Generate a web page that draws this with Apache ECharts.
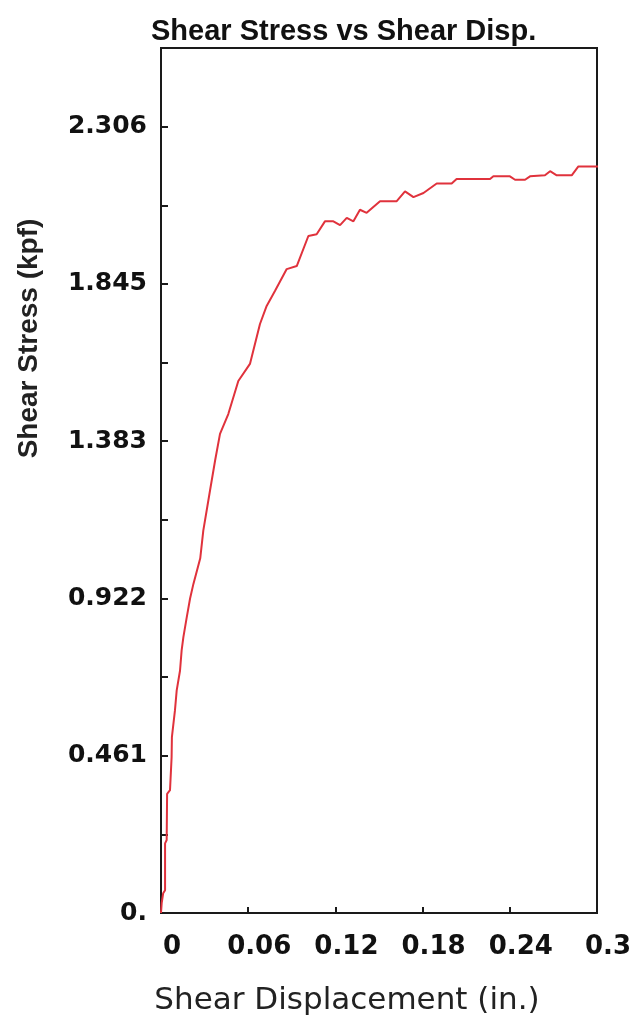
<!DOCTYPE html>
<html>
<head>
<meta charset="utf-8">
<script src="https://cdn.jsdelivr.net/npm/echarts@6/dist/echarts.min.js"></script>
<style>
  html, body { margin: 0; padding: 0; background: #ffffff; }
  #chart { width: 634px; height: 1018px; }
</style>
</head>
<body>
<div id="chart"></div>
<script>
// Direct shear test: shear stress against horizontal displacement
const shearDisp = [0, 0.0005, 0.0015, 0.0028, 0.0028, 0.0039, 0.0042, 0.0062, 0.0073, 0.0075,
  0.0096, 0.0108, 0.0131, 0.0142, 0.0154, 0.0177, 0.0200, 0.0223, 0.0270, 0.0291,
  0.0337, 0.0372, 0.0406, 0.0463, 0.0532, 0.0612, 0.0681, 0.0727, 0.0784, 0.0865,
  0.0934, 0.1014, 0.1071, 0.1128, 0.1186, 0.1232, 0.1278, 0.1324, 0.1369, 0.1415,
  0.1507, 0.1622, 0.1679, 0.1737, 0.1806, 0.1897, 0.2000, 0.2034, 0.2264, 0.2287,
  0.2401, 0.2436, 0.2505, 0.2539, 0.2642, 0.2677, 0.2723, 0.2826, 0.2872, 0.3030];
const shearStress = [0, 0.030, 0.058, 0.067, 0.204, 0.214, 0.349, 0.360, 0.457, 0.516,
  0.594, 0.653, 0.711, 0.770, 0.809, 0.867, 0.922, 0.965, 1.040, 1.121,
  1.238, 1.326, 1.405, 1.463, 1.560, 1.610, 1.727, 1.780, 1.824, 1.888,
  1.897, 1.985, 1.990, 2.028, 2.028, 2.017, 2.038, 2.028, 2.062, 2.053,
  2.087, 2.087, 2.116, 2.099, 2.111, 2.139, 2.139, 2.152, 2.152, 2.160,
  2.160, 2.150, 2.150, 2.160, 2.163, 2.175, 2.163, 2.163, 2.189, 2.189];

const xTickLabels = ['0', '0.06', '0.12', '0.18', '0.24', '0.3'];
const yTickLabels = ['0.', '0.461', '0.922', '1.383', '1.845', '2.306'];

const xStep = 0.06;
const yStep = 0.46114;

const points = shearDisp.map((d, i) => [d, shearStress[i]]);

const chart = echarts.init(document.getElementById('chart'));
chart.setOption({
  backgroundColor: '#ffffff',
  animation: false,
  title: {
    text: 'Shear Stress vs Shear Disp.',
    left: 146,
    top: 12,
    textStyle: { fontFamily: 'Liberation Sans', fontWeight: 'bold', fontSize: 29, color: '#111' }
  },
  grid: {
    left: 161, right: 37, top: 48, bottom: 105,
    outerBoundsMode: 'none',
    containLabel: false,
    show: true, borderColor: '#1a1a1a', borderWidth: 2, backgroundColor: '#ffffff'
  },
  xAxis: {
    type: 'value',
    min: 0, max: 0.3, interval: xStep,
    name: 'Shear Displacement (in.)',
    nameLocation: 'middle',
    nameGap: 72,
    nameTextStyle: { fontFamily: 'DejaVu Sans', fontSize: 31, color: '#222', padding: [0, 64, 0, 0] },
    axisLine: { lineStyle: { color: '#1a1a1a', width: 2 } },
    axisTick: { inside: true, length: 6, lineStyle: { color: '#1a1a1a', width: 2 } },
    splitLine: { show: false },
    axisLabel: {
      margin: 21,
      padding: [0, 0, 0, 22],
      fontFamily: 'DejaVu Sans', fontWeight: 'bold', fontSize: 26, color: '#111',
      formatter: v => xTickLabels[Math.round(v / xStep)] ?? ''
    }
  },
  yAxis: {
    type: 'value',
    min: 0, max: yStep * 5.5, interval: yStep,
    name: 'Shear Stress (kpf)',
    nameLocation: 'middle',
    nameGap: 118,
    nameRotate: 90,
    nameTextStyle: { fontFamily: 'Liberation Sans', fontWeight: 'bold', fontSize: 28, color: '#222', padding: [0, 0, 0, 284] },
    axisLine: { show: true, lineStyle: { color: '#1a1a1a', width: 2 } },
    axisTick: { inside: true, length: 7, lineStyle: { color: '#1a1a1a', width: 2 } },
    minorTick: { show: true, splitNumber: 2, length: 7, lineStyle: { color: '#1a1a1a', width: 2 } },
    splitLine: { show: false },
    axisLabel: {
      margin: 14,
      fontFamily: 'DejaVu Sans', fontWeight: 'bold', fontSize: 25, color: '#111',
      formatter: v => yTickLabels[Math.round(v / yStep)] ?? ''
    }
  },
  series: [{
    type: 'line',
    data: points,
    showSymbol: false,
    clip: false,
    lineStyle: { color: '#e0323c', width: 2 }
  }]
});
</script>
</body>
</html>
